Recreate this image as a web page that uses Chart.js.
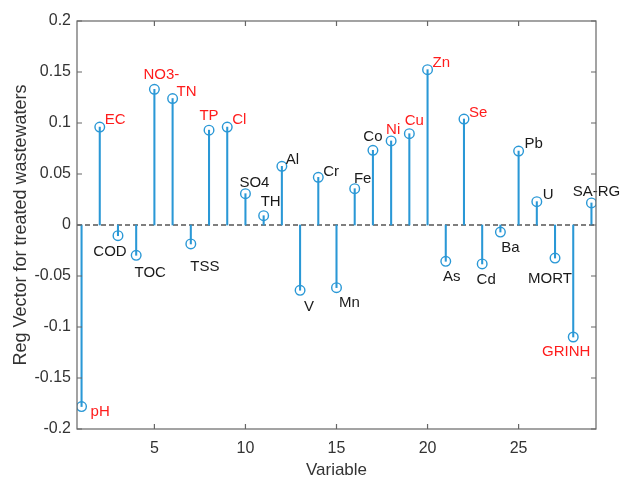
<!DOCTYPE html>
<html>
<head>
<meta charset="utf-8">
<script src="https://cdn.jsdelivr.net/npm/chart.js@4.4.1/dist/chart.umd.min.js"></script>
<style>
  html, body { margin: 0; padding: 0; background: #fff; }
  #wrap { width: 622px; height: 479px; position: relative; }
</style>
</head>
<body>
<div id="wrap"><canvas id="stemChart"></canvas></div>
<script>
// Variables (x = 1..29) and their regression vector coefficients
const variables = ['pH', 'EC', 'COD', 'TOC', 'NO3-', 'TN', 'TSS', 'TP', 'Cl', 'SO4',
    'TH', 'Al', 'V', 'Cr', 'Mn', 'Fe', 'Co', 'Ni', 'Cu', 'Zn',
    'As', 'Se', 'Cd', 'Ba', 'Pb', 'U', 'MORT', 'GRINH', 'SA-RG'];
const regVector = [-0.178, 0.096, -0.0105, -0.0297, 0.133, 0.124, -0.0186, 0.093, 0.096, 0.0307,
    0.0091, 0.0575, -0.064, 0.0467, -0.0614, 0.0356, 0.0732, 0.0824, 0.0895, 0.1523,
    -0.0356, 0.1039, -0.0382, -0.0069, 0.0725, 0.0229, -0.0324, -0.1098, 0.0216];
// variables whose label is shown in red
const redVars = ['pH', 'EC', 'NO3-', 'TN', 'TP', 'Cl', 'Ni', 'Cu', 'Zn', 'Se', 'GRINH'];
const xTicks = [5, 10, 15, 20, 25];
const yTicks = [-0.2, -0.15, -0.1, -0.05, 0, 0.05, 0.1, 0.15, 0.2];

// label placement next to each marker: [dx, dy, align] in pixels
const labelPos = {
    'pH': [9, 5, 'left'], 'EC': [5, -7, 'left'], 'COD': [-8, 16, 'center'],
    'TOC': [14, 18, 'center'], 'NO3-': [7, -14, 'center'], 'TN': [4, -7, 'left'],
    'TSS': [14, 23, 'center'], 'TP': [0, -14, 'center'], 'Cl': [5, -7, 'left'],
    'SO4': [9, -11, 'center'], 'TH': [7, -14, 'center'], 'Al': [4, -6, 'left'],
    'V': [9, 17, 'center'], 'Cr': [5, -6, 'left'], 'Mn': [13, 15, 'center'],
    'Fe': [8, -10, 'center'], 'Co': [0, -13, 'center'], 'Ni': [2, -11, 'center'],
    'Cu': [5, -13, 'center'], 'Zn': [5, -7, 'left'], 'As': [6, 16, 'center'],
    'Se': [5, -6, 'left'], 'Cd': [4, 16, 'center'], 'Ba': [10, 16, 'center'],
    'Pb': [6, -7, 'left'], 'U': [6, -7, 'left'], 'MORT': [-5, 21, 'center'],
    'GRINH': [-7, 15, 'center'], 'SA-RG': [5, -11, 'center']
};

const blue = '#2a98d6';
const FONT = '"Liberation Sans", Arial, Helvetica, sans-serif';

const points = regVector.map((v, i) => ({ x: i + 1, y: v }));

// frame, inward ticks and dashed zero line like a MATLAB axes box
const framePlugin = {
    id: 'frame',
    beforeDatasetsDraw(chart) {
        const { ctx, chartArea: a, scales: { y } } = chart;
        const y0 = y.getPixelForValue(0);
        ctx.save();
        ctx.strokeStyle = '#555';
        ctx.lineWidth = 1.5;
        ctx.setLineDash([5, 3]);
        ctx.beginPath();
        ctx.moveTo(a.left, y0);
        ctx.lineTo(a.right, y0);
        ctx.stroke();
        ctx.restore();
    },
    afterDraw(chart) {
        const { ctx, chartArea: a, scales: { x, y } } = chart;
        ctx.save();
        ctx.strokeStyle = '#666';
        ctx.lineWidth = 1.2;
        ctx.strokeRect(a.left, a.top, a.right - a.left, a.bottom - a.top);
        ctx.beginPath();
        xTicks.forEach(t => {
            const px = x.getPixelForValue(t);
            ctx.moveTo(px, a.bottom); ctx.lineTo(px, a.bottom - 5);
            ctx.moveTo(px, a.top); ctx.lineTo(px, a.top + 5);
        });
        yTicks.forEach(t => {
            const py = y.getPixelForValue(t);
            ctx.moveTo(a.left, py); ctx.lineTo(a.left + 5, py);
            ctx.moveTo(a.right, py); ctx.lineTo(a.right - 5, py);
        });
        ctx.stroke();
        ctx.restore();
    }
};

// text labels beside each stem marker
const labelPlugin = {
    id: 'stemLabels',
    afterDatasetsDraw(chart) {
        const { ctx } = chart;
        const meta = chart.getDatasetMeta(1);
        ctx.save();
        ctx.font = '15px ' + FONT;
        ctx.textBaseline = 'middle';
        variables.forEach((name, i) => {
            const pt = meta.data[i];
            const [dx, dy, align] = labelPos[name];
            ctx.fillStyle = redVars.includes(name) ? '#ff1c1c' : '#1a1a1a';
            ctx.textAlign = align;
            ctx.fillText(name, pt.x + dx, pt.y + dy);
        });
        ctx.restore();
    }
};

new Chart(document.getElementById('stemChart'), {
    type: 'bar',
    data: {
        datasets: [{
            type: 'bar',
            data: points,
            backgroundColor: blue,
            borderWidth: 0,
            barThickness: 1.4
        }, {
            type: 'scatter',
            data: points,
            showLine: false,
            pointStyle: 'circle',
            pointRadius: 4.8,
            pointBorderWidth: 1.4,
            pointBorderColor: blue,
            pointBackgroundColor: 'rgba(0,0,0,0)'
        }]
    },
    options: {
        responsive: true,
        maintainAspectRatio: false,
        animation: false,
        layout: { padding: { top: 21, right: 26, bottom: 0, left: 0 } },
        plugins: {
            legend: { display: false },
            tooltip: { enabled: false }
        },
        scales: {
            x: {
                type: 'linear',
                min: 0.75,
                max: 29.25,
                offset: false,
                grid: { display: false, drawTicks: false },
                border: { display: false },
                afterBuildTicks: s => { s.ticks = xTicks.map(v => ({ value: v })); },
                afterFit: s => { s.height = 50; },
                ticks: {
                    padding: 10,
                    color: '#333',
                    font: { family: FONT, size: 16 },
                    callback: v => String(v)
                },
                title: {
                    display: true,
                    text: 'Variable',
                    color: '#333',
                    font: { family: FONT, size: 17 },
                    padding: { top: 0, bottom: -2 }
                }
            },
            y: {
                min: -0.2,
                max: 0.2,
                grid: { display: false, drawTicks: false },
                border: { display: false },
                afterBuildTicks: s => { s.ticks = yTicks.map(v => ({ value: v })); },
                afterFit: s => { s.width = 77; },
                ticks: {
                    padding: 6,
                    color: '#333',
                    font: { family: FONT, size: 16 },
                    callback: v => String(Number(v.toFixed(2)))
                },
                title: {
                    display: true,
                    text: 'Reg Vector for treated wastewaters',
                    color: '#333',
                    font: { family: FONT, size: 18 },
                    padding: { top: 10, bottom: 0 }
                }
            }
        }
    },
    plugins: [framePlugin, labelPlugin]
});
</script>
</body>
</html>
